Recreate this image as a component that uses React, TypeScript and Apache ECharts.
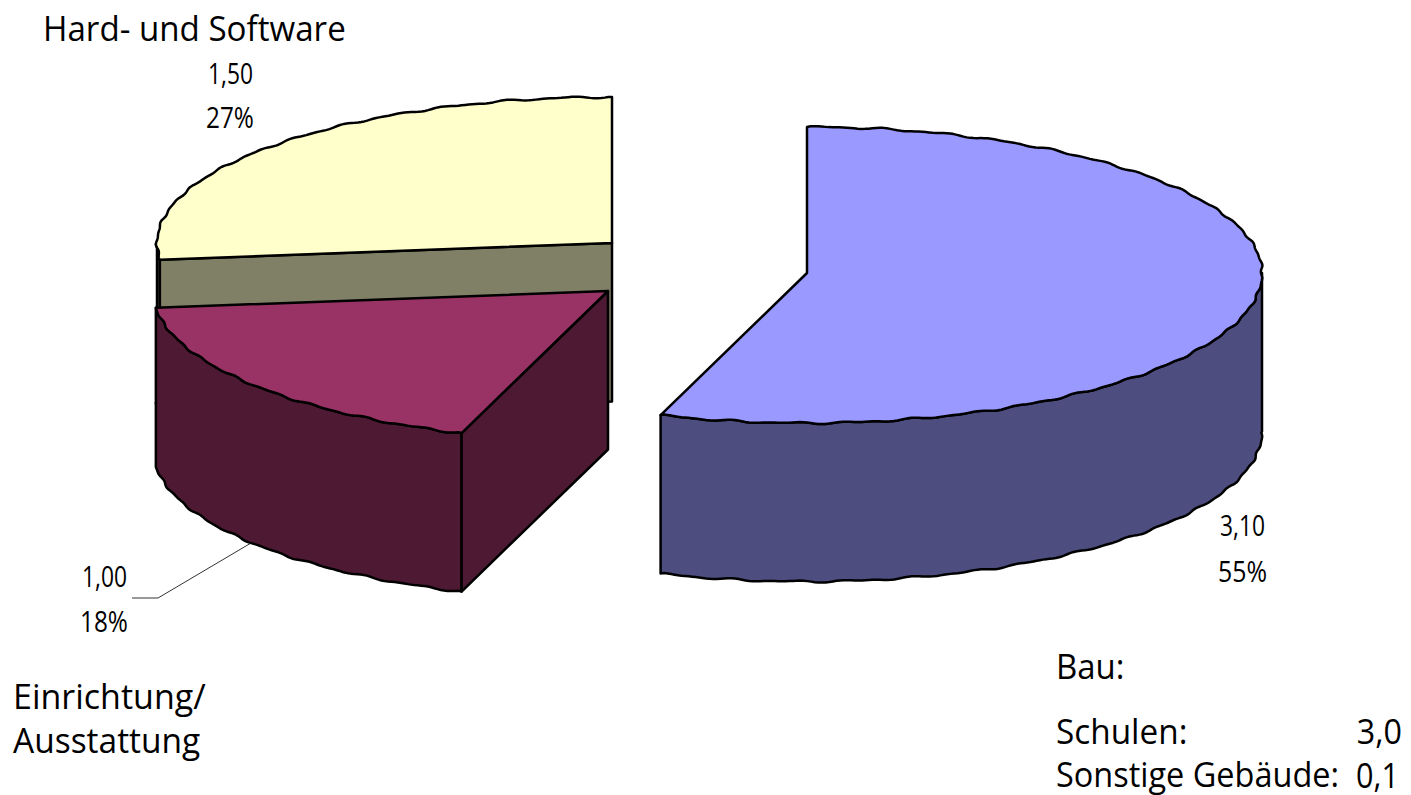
import React, { useEffect, useRef } from "react";
import * as echarts from "echarts";

const sliceNames = ["Bau", "Einrichtung/Ausstattung", "Hard- und Software"];
const sliceValues = [3.1, 1.0, 1.5];
const topColors = ["#9999FF", "#993366", "#FFFFCC"];
const wallColors = ["#4D4D80", "#4D1933", "#808066"];
const sliceCenters = [[807, 273], [608, 291], [612, 243]];
const drawOrder = [2, 0, 1];
const valueLabels = ["3,10", "1,00", "1,50"];
const shareLabels = ["55%", "18%", "27%"];

const RX = 455;
const RY_BACK = 146;
const RY_FRONT = 150;
const DEPTH = 158.5;
const BOUNDARY_NUDGE = [0, -0.009, 0, 0];

// Slight ripple of the traced outline in the source drawing
const ripple = (t: number) => 0.7 * Math.sin(t * 47) + 0.5 * Math.sin(t * 79 + 1);

function rim(cx: number, cy: number, t: number, d = 0) {
  const c = Math.cos(t);
  const ry = c < 0 ? RY_FRONT : RY_BACK;
  return [cx + (RX + d) * Math.sin(t), cy - (ry + d) * c];
}

function arcPoints(cx: number, cy: number, from: number, to: number) {
  const pts: number[][] = [];
  const n = Math.max(2, Math.round(Math.abs(to - from) / 0.008));
  for (let i = 0; i <= n; i++) {
    const t = from + ((to - from) * i) / n;
    const edge = i === 0 || i === n;
    pts.push(rim(cx, cy, t, edge ? 0 : ripple(t)));
  }
  return pts;
}

function renderSlice(params: any, api: any) {
  const idx = drawOrder[params.dataIndex];
  const total = sliceValues.reduce((a, b) => a + b, 0);
  let acc = 0;
  for (let i = 0; i < idx; i++) acc += sliceValues[i];
  const a0 = (acc / total) * 2 * Math.PI + BOUNDARY_NUDGE[idx];
  const a1 = ((acc + api.value(0)) / total) * 2 * Math.PI + BOUNDARY_NUDGE[idx + 1];
  const [cx, cy] = sliceCenters[idx];
  const stroke = { stroke: "#000", lineWidth: 2.5, lineJoin: "round" };
  const children: any[] = [];
  const poly = (points: number[][], fill: string) =>
    children.push({ type: "polygon", shape: { points }, style: { fill, ...stroke } });

  // Outer wall: the part of the rim facing the viewer (90°..270°)
  const w0 = Math.max(a0, Math.PI / 2);
  const w1 = Math.min(a1, (3 * Math.PI) / 2);
  if (w1 > w0) {
    const top = arcPoints(cx, cy, w0, w1);
    const bottom = top.map(([x, y]) => [x, y + DEPTH]).reverse();
    poly([...top, ...bottom], wallColors[idx]);
  }
  // The cut face at a slice's start turns toward the viewer in the lower left quadrant
  if (Math.cos(a0) < 0 && Math.sin(a0) < 0) {
    const [x, y] = rim(cx, cy, a0);
    poly([[cx, cy], [x, y], [x, y + DEPTH], [cx, cy + DEPTH]], wallColors[idx]);
  }
  poly([[cx, cy], ...arcPoints(cx, cy, a0, a1)], topColors[idx]);
  return { type: "group", children };
}

const FONT = '"Open Sans", "Noto Sans", sans-serif';

function label(text: string, x: number, baseline: number, size: number, scaleX: number, align = "left") {
  return {
    type: "text",
    x,
    y: baseline - size * 0.357,
    scaleX,
    silent: true,
    style: { text, x: 0, y: 0, fontFamily: FONT, fontSize: size, fill: "#000", align, verticalAlign: "middle" },
  };
}

export default function App() {
  const ref = useRef<HTMLDivElement>(null);
  useEffect(() => {
    const chart = echarts.init(ref.current!, undefined, { renderer: "svg" });
    chart.setOption({
      animation: false,
      backgroundColor: "#fff",
      series: [
        {
          type: "custom",
          coordinateSystem: "none",
          renderItem: renderSlice,
          silent: true,
          data: drawOrder.map((i) => ({ name: sliceNames[i], value: [sliceValues[i]] })),
        },
      ],
      graphic: [
        { type: "polyline", shape: { points: [[132, 598], [158, 598], [251, 543]] }, style: { stroke: "#333", lineWidth: 1, fill: "none" }, silent: true },
        label("Hard- und Software", 43, 40, 34, 0.975),
        label(valueLabels[2], 208, 83, 30, 0.76),
        label(shareLabels[2], 206, 127, 30, 0.81),
        label(valueLabels[1], 82, 586, 30, 0.76),
        label(shareLabels[1], 80, 631, 30, 0.81),
        label(valueLabels[0], 1220, 535, 30, 0.76),
        label(shareLabels[0], 1218, 581, 30, 0.83),
        label("Einrichtung/", 13, 708, 34, 1.0),
        label("Ausstattung", 13, 752, 34, 0.985),
        label("Bau:", 1056, 678, 34, 0.97),
        label("Schulen:", 1056, 743, 34, 0.98),
        label("3,0", 1402, 743, 34, 0.95, "right"),
        label("Sonstige Gebäude:", 1056, 786, 34, 0.955),
        label("0,1", 1399, 786, 34, 0.9, "right"),
      ],
    });
    return () => chart.dispose();
  }, []);
  return <div ref={ref} style={{ position: "fixed", left: 0, top: 0, width: 1411, height: 795 }} />;
}
